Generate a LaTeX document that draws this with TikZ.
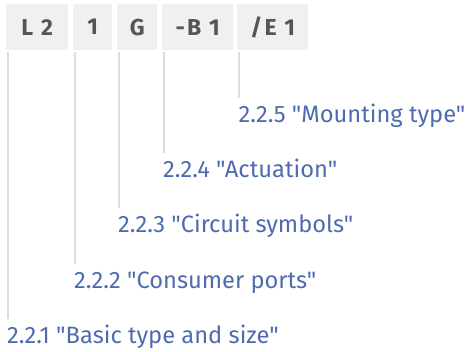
\documentclass[tikz,border=0pt]{standalone}
\usepackage{fontspec}
\usetikzlibrary{calc}
\setmainfont{Fira Sans}[Ligatures=TeXOff]
\newfontfamily\codefont{Fira Sans}[Ligatures=TeXOff,LetterSpace=10]
\definecolor{boxfill}{HTML}{F0F0F0}
\definecolor{boxtext}{HTML}{555555}
\definecolor{linegray}{HTML}{DCDCDC}
\definecolor{labelblue}{HTML}{4F6BB0}
\begin{document}
\begin{tikzpicture}[x=1pt,y=-1pt,
  codebox/.style={fill=boxfill, minimum height=46pt, inner sep=0pt, anchor=north west,
    text=boxtext, font=\codefont\fontsize{23}{26}\selectfont\bfseries},
  lbl/.style={anchor=base west, inner sep=0pt, text=labelblue, font=\fontsize{23.7}{28}\selectfont},
  lead/.style={draw=linegray, line width=2pt}]
\useasboundingbox (0,0) rectangle (468,352);
\node[codebox, minimum width=62pt] (b1) at (6,4) {L 2};
\node[codebox, minimum width=39pt] (b2) at (73,4) {1};
\node[codebox, minimum width=40pt] (b3) at (117,4) {G};
\node[codebox, minimum width=71pt] (b4) at (162,4) {-B 1};
\node[codebox, minimum width=71pt] (b5) at (237,4) {/E 1};
\node[lbl] (l5) at (238.5,123) {2.2.5 "Mounting type"};
\node[lbl] (l4) at (163,178) {2.2.4 "Actuation"};
\node[lbl] (l3) at (118,233) {2.2.3 "Circuit symbols"};
\node[lbl] (l2) at (74,289) {2.2.2 "Consumer ports"};
\node[lbl] (l1) at (7,343) {2.2.1 "Basic type and size"};
\foreach \i in {1,...,5}{
  \draw[lead] ($(b\i.south west)+(1.5,2)$) -- ($(b\i.south west |- l\i.base west)+(1.5,-24.5)$);
}
\end{tikzpicture}
\end{document}
